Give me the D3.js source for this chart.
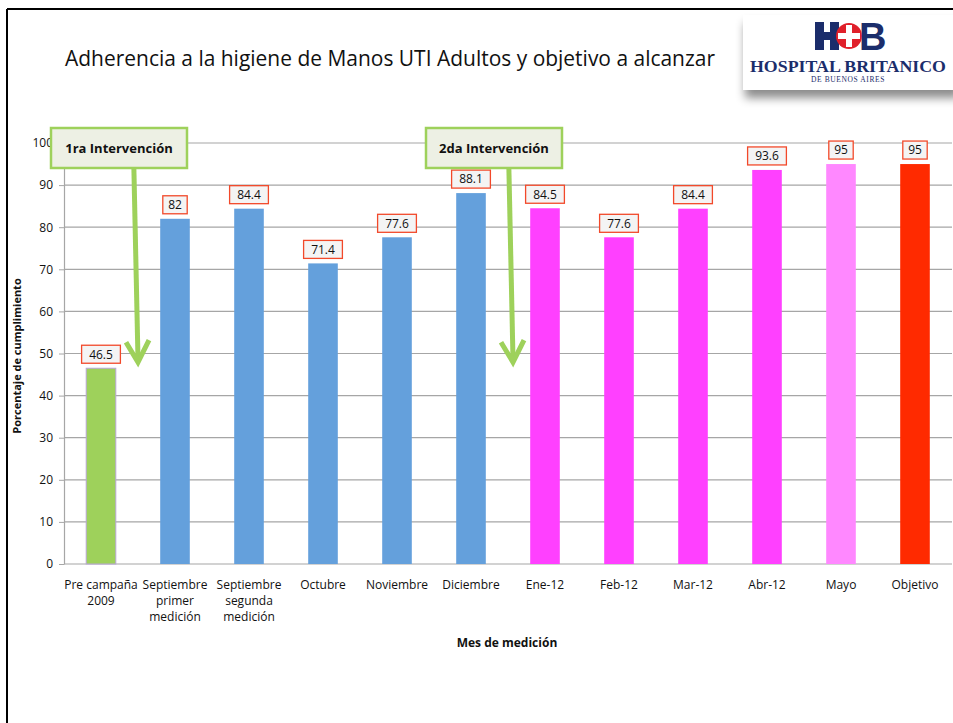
<!DOCTYPE html>
<html>
<head>
<meta charset="utf-8">
<script src="https://cdn.jsdelivr.net/npm/d3@7"></script>
<style>
  body { margin: 0; background: #fff; }
  svg { display: block; font-family: "Open Sans", Lato, sans-serif; }
</style>
</head>
<body>
<svg id="chart" width="953" height="723"></svg>
<script>
// chart data
const categories = [
  ["Pre campaña", "2009"],
  ["Septiembre", "primer", "medición"],
  ["Septiembre", "segunda", "medición"],
  ["Octubre"],
  ["Noviembre"],
  ["Diciembre"],
  ["Ene-12"],
  ["Feb-12"],
  ["Mar-12"],
  ["Abr-12"],
  ["Mayo"],
  ["Objetivo"]
];
const values = [46.5, 82, 84.4, 71.4, 77.6, 88.1, 84.5, 77.6, 84.4, 93.6, 95, 95];
const phases = ["pre", "first", "first", "first", "first", "first", "second", "second", "second", "second", "may", "goal"];
const yTicks = [0, 10, 20, 30, 40, 50, 60, 70, 80, 90, 100];
const interventions = ["1ra Intervención", "2da Intervención"];
const interventionAfter = [0, 5]; // arrow falls between this bar and the next

const phaseColor = {
  pre: "#9ed15b",
  first: "#64a0dc",
  second: "#ff40ff",
  may: "#ff88ff",
  goal: "#ff2a00"
};

const svg = d3.select("#chart");
const margin = { top: 143, left: 64, right: 1, bottom: 159 };
const width = 953 - margin.left - margin.right;
const height = 723 - margin.top - margin.bottom;

// page frame
svg.append("line").attr("x1", 7).attr("x2", 953).attr("y1", 9).attr("y2", 9)
  .attr("stroke", "#000").attr("stroke-width", 2);
svg.append("line").attr("x1", 7).attr("x2", 7).attr("y1", 9).attr("y2", 723)
  .attr("stroke", "#000").attr("stroke-width", 2);

// title
svg.append("text")
  .attr("x", 65).attr("y", 66)
  .attr("font-size", 21).attr("fill", "#111")
  .attr("textLength", 650).attr("lengthAdjust", "spacingAndGlyphs")
  .text("Adherencia a la higiene de Manos UTI Adultos y objetivo a alcanzar");

// logo
const defs = svg.append("defs");
const shadow = defs.append("filter").attr("id", "shadow")
  .attr("x", "-10%").attr("y", "-10%").attr("width", "130%").attr("height", "160%");
shadow.append("feDropShadow").attr("dx", 2).attr("dy", 8).attr("stdDeviation", 5)
  .attr("flood-color", "#000").attr("flood-opacity", 0.45);

const logo = svg.append("g").attr("transform", "translate(743,15)");
logo.append("rect").attr("width", 215).attr("height", 75).attr("fill", "#fff")
  .attr("filter", "url(#shadow)");
const navy = "#1b2d6b";
// H
logo.append("rect").attr("x", 72).attr("y", 7).attr("width", 9).attr("height", 28).attr("fill", navy);
logo.append("rect").attr("x", 87).attr("y", 7).attr("width", 9).attr("height", 28).attr("fill", navy);
logo.append("rect").attr("x", 72).attr("y", 17).attr("width", 24).attr("height", 8).attr("fill", navy);
// cross
logo.append("circle").attr("cx", 106).attr("cy", 21).attr("r", 13).attr("fill", "#e0202a");
logo.append("rect").attr("x", 103).attr("y", 10).attr("width", 6).attr("height", 22).attr("fill", "#fff");
logo.append("rect").attr("x", 95).attr("y", 18).attr("width", 22).attr("height", 6).attr("fill", "#fff");
// B
logo.append("text").attr("x", 116).attr("y", 35)
  .attr("font-family", "Liberation Sans, Arial, sans-serif").attr("font-weight", "bold")
  .attr("font-size", 38).attr("fill", navy).text("B");
logo.append("text").attr("x", 105).attr("y", 57).attr("text-anchor", "middle")
  .attr("font-family", "Liberation Serif, 'DejaVu Serif', serif").attr("font-weight", "bold")
  .attr("font-size", 17.5).attr("fill", navy).attr("textLength", 196).attr("lengthAdjust", "spacingAndGlyphs")
  .text("HOSPITAL BRITANICO");
logo.append("text").attr("x", 105).attr("y", 67).attr("text-anchor", "middle")
  .attr("font-family", "Liberation Serif, 'DejaVu Serif', serif")
  .attr("font-size", 7.5).attr("fill", navy).attr("letter-spacing", 0.6)
  .text("DE BUENOS AIRES");

// scales
const x = d3.scaleBand()
  .domain(d3.range(categories.length))
  .range([0, width])
  .paddingInner(0.6).paddingOuter(0.3);
const y = d3.scaleLinear().domain([0, 100]).range([height, 0]);

const chart = svg.append("g").attr("transform", `translate(${margin.left},${margin.top})`);

// gridlines
chart.selectAll(".grid")
  .data(yTicks.filter(d => d > 0))
  .join("line")
  .attr("class", "grid")
  .attr("x1", 0).attr("x2", width)
  .attr("y1", d => y(d)).attr("y2", d => y(d))
  .attr("stroke", "#a6a6a6").attr("stroke-width", 1.2);

// y axis
const yAxis = chart.append("g")
  .call(d3.axisLeft(y).tickValues(yTicks).tickSize(5).tickPadding(6).tickSizeOuter(0));
yAxis.select(".domain").attr("stroke", "#a6a6a6").attr("stroke-width", 1.2);
yAxis.selectAll(".tick line").attr("stroke", "#a6a6a6");
yAxis.selectAll(".tick text").attr("font-size", 12).attr("fill", "#111")
  .attr("font-family", "'Open Sans', sans-serif");

// x baseline
chart.append("line").attr("x1", 0).attr("x2", width).attr("y1", height).attr("y2", height)
  .attr("stroke", "#a6a6a6").attr("stroke-width", 1.2);

// bars
chart.selectAll(".bar")
  .data(values)
  .join("rect")
  .attr("class", "bar")
  .attr("x", (d, i) => x(i))
  .attr("y", d => y(d))
  .attr("width", x.bandwidth())
  .attr("height", d => height - y(d))
  .attr("fill", (d, i) => phaseColor[phases[i]])
  .attr("stroke", (d, i) => i === 0 ? "#b8a6d6" : "none")
  .attr("stroke-width", 1);

// value labels
const labels = chart.selectAll(".value-label")
  .data(values)
  .join("g")
  .attr("class", "value-label")
  .attr("transform", (d, i) => `translate(${x(i) + x.bandwidth() / 2},${y(d) - 14})`);
labels.append("rect")
  .attr("x", d => -(String(d).length * 3.6 + 5))
  .attr("y", -9)
  .attr("width", d => 2 * (String(d).length * 3.6 + 5))
  .attr("height", 18)
  .attr("fill", "#f4f4f4")
  .attr("stroke", "#f2492a").attr("stroke-width", 1.3);
labels.append("text")
  .attr("text-anchor", "middle").attr("dy", "0.36em")
  .attr("font-size", 12).attr("fill", "#111")
  .text(d => d);

// category labels
const catLabels = chart.selectAll(".cat-label")
  .data(categories)
  .join("text")
  .attr("class", "cat-label")
  .attr("text-anchor", "middle")
  .attr("font-size", 12).attr("fill", "#111")
  .attr("transform", (d, i) => `translate(${x(i) + x.bandwidth() / 2},${height + 25})`);
catLabels.selectAll("tspan")
  .data(d => d)
  .join("tspan")
  .attr("x", 0)
  .attr("y", (d, i) => i * 16)
  .text(d => d);

// axis titles
svg.append("text")
  .attr("x", 507).attr("y", 647)
  .attr("text-anchor", "middle")
  .attr("font-size", 12).attr("font-weight", "bold").attr("fill", "#111")
  .text("Mes de medición");
svg.append("text")
  .attr("transform", "translate(21,356) rotate(-90)")
  .attr("text-anchor", "middle")
  .attr("font-size", 11).attr("font-weight", "bold").attr("fill", "#111")
  .text("Porcentaje de cumplimiento");

// intervention callouts
const green = "#9ed15b";
const calloutShift = [0, 5];
interventions.forEach((label, k) => {
  const i = interventionAfter[k];
  const tipX = (x(i) + x(i + 1) + x.bandwidth()) / 2 + calloutShift[k];
  const tipY = y(46.5) - 6;
  const startX = tipX - 5;
  const startY = -15;
  const g = chart.append("g");
  g.append("line")
    .attr("x1", startX).attr("y1", startY).attr("x2", tipX).attr("y2", tipY - 3)
    .attr("stroke", green).attr("stroke-width", 5);
  g.append("path")
    .attr("d", `M${tipX - 12},${tipY - 20} L${tipX},${tipY} L${tipX + 11},${tipY - 22}`)
    .attr("fill", "none").attr("stroke", green).attr("stroke-width", 5)
    .attr("stroke-linejoin", "miter");
  const bx = startX - 82, bw = 136;
  g.append("rect")
    .attr("x", bx).attr("y", -15).attr("width", bw).attr("height", 40)
    .attr("fill", "#edf0e4").attr("stroke", green).attr("stroke-width", 2.5);
  g.append("text")
    .attr("x", bx + bw / 2).attr("y", 5).attr("dy", "0.35em")
    .attr("text-anchor", "middle")
    .attr("font-size", 13).attr("font-weight", "bold").attr("fill", "#111")
    .text(label);
});
</script>
</body>
</html>
